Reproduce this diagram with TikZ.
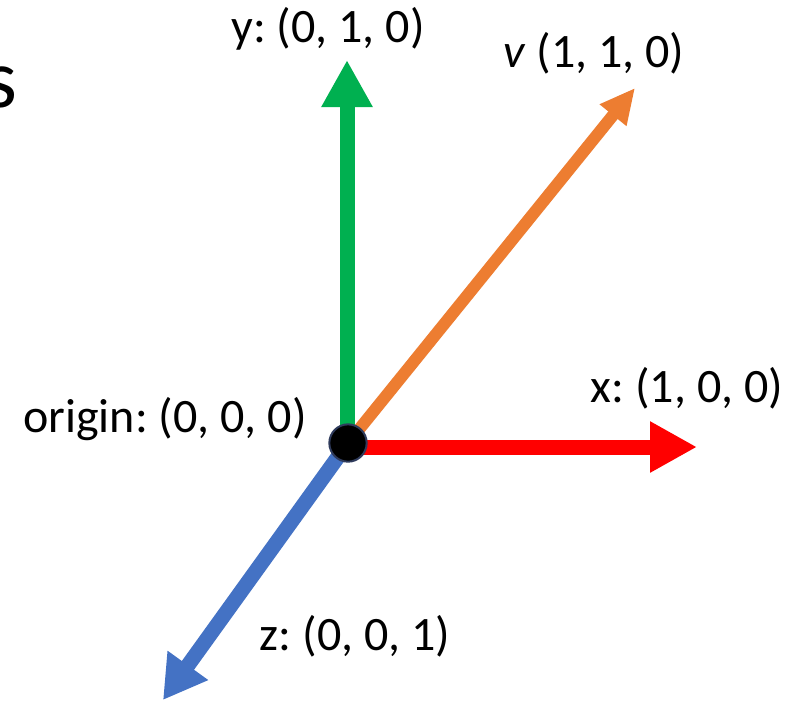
\documentclass[tikz,border=0pt]{standalone}
\usepackage{fontspec}
\setmainfont{Carlito}
\usetikzlibrary{arrows.meta}
\definecolor{axgreen}{HTML}{00B050}
\definecolor{axred}{HTML}{FF0000}
\definecolor{axblue}{HTML}{4472C4}
\definecolor{axorange}{HTML}{ED7D31}
\definecolor{dotedge}{HTML}{2F3B5C}
\frenchspacing
\begin{document}
\begin{tikzpicture}[x=0.75pt,y=-0.75pt,
  lbl/.style={font=\fontsize{36}{43}\selectfont, inner sep=0pt, anchor=base},
  bigaxis/.style={line width=11.25pt, -{Triangle[length=35.25pt,width=36pt]}},
  vecarrow/.style={line width=9pt, -{Triangle[length=26.25pt,width=24pt]}},
  zaxis/.style={line width=11.25pt, -{Triangle[length=32pt,width=35.25pt]}},
  origindot/.style={circle, fill=black, draw=dotedge, line width=1.5pt, minimum size=28pt, inner sep=0pt}]
\useasboundingbox (0,0) rectangle (787,701);
\clip (0,0) rectangle (787,701);
\fill[white] (0,0) rectangle (787,701);
% coordinates
\coordinate (O) at (348,443);
\coordinate (Ored) at (348,447);
\coordinate (Ogreen) at (347,443);
\coordinate (ytip) at (347,60);
\coordinate (xtip) at (697,447);
\coordinate (vtip) at (635,88);
\coordinate (ztip) at (163,700);
% arrows
\draw[bigaxis, axgreen] (Ogreen) -- (ytip);
\draw[vecarrow, axorange] (O) -- (vtip);
\draw[bigaxis, axred] (Ored) -- (xtip);
\draw[zaxis, axblue] (O) -- (ztip);
\node[origindot] (dot) at (O) {};
% labels
\node[lbl] (ylbl) at (328,42) {y: (0, 1, 0)};
\node[lbl] (vlbl) at (594,67) {\textit{v} (1, 1, 0)};
\node[lbl] (olbl) at (165,432) {origin: (0, 0, 0)};
\node[lbl] (xlbl) at (687,402) {x: (1, 0, 0)};
\node[lbl] (zlbl) at (355,650) {z: (0, 0, 1)};
\node[font=\fontsize{63}{70}\selectfont, inner sep=0pt, anchor=base east] (slbl) at (18,107) {s};
\end{tikzpicture}
\end{document}
